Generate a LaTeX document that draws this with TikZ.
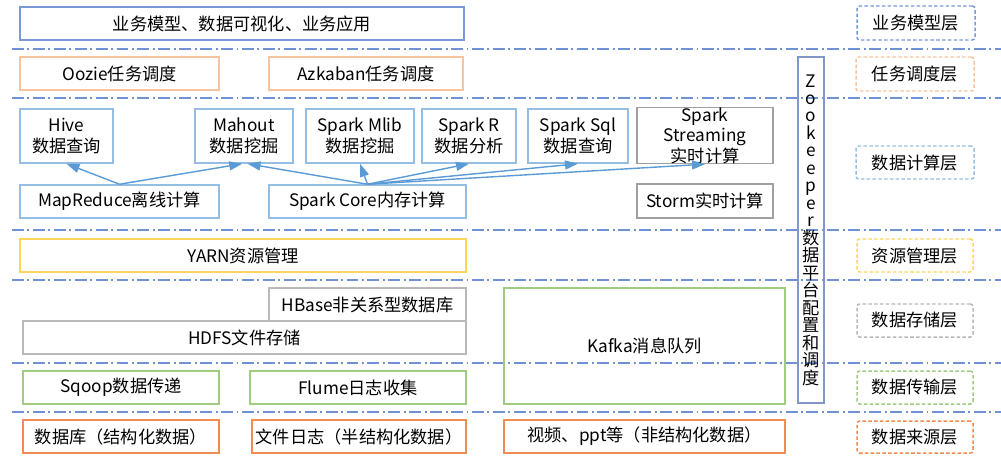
\documentclass[tikz,border=0pt]{standalone}
\usepackage{fontspec}
\setmainfont{Noto Sans CJK SC}
\usepackage{tikz}
\usetikzlibrary{arrows.meta,positioning}

\definecolor{sepbl}{RGB}{112,146,212}
\definecolor{appbl}{RGB}{120,152,214}
\definecolor{compbl}{RGB}{150,190,228}
\definecolor{schor}{RGB}{248,196,160}
\definecolor{srcor}{RGB}{240,140,80}
\definecolor{yarny}{RGB}{255,212,90}
\definecolor{storgr}{RGB}{185,185,185}
\definecolor{strmgr}{RGB}{160,160,160}
\definecolor{transgn}{RGB}{160,204,130}
\definecolor{zkbl}{RGB}{130,150,200}
\definecolor{arrbl}{RGB}{91,155,213}

\begin{document}
\begin{tikzpicture}[
  x=0.02cm, y=-0.02cm,
  every node/.style={font=\fontsize{9.8}{12}\selectfont},
  box/.style={rectangle, draw=#1, line width=0.85pt, inner sep=0pt,
              align=center},
  wh/.style 2 args={minimum width=#1*0.02cm, minimum height=#2*0.02cm},
  tag/.style={box=#1, dash pattern=on 2pt off 1.3pt, rounded corners=1.5pt},
  dep/.style={-{Triangle[length=2.6mm,width=1.8mm]}, line width=0.8pt, arrbl},
  sep/.style={sepbl, line width=1.1pt,
              dash pattern=on 6.8pt off 2pt on 1.1pt off 2pt},
]
\useasboundingbox (0,0) rectangle (1001,463);

%% -- layer separators -----------------------------------------------
\foreach \y in {49,98,230,280,363,412}
  \draw[sep] (12,\y) -- (1001,\y);

%% -- business layer ---------------------------------------------------
\node[box=appbl, wh={444}{33}] (app) at (242,23.5) {业务模型、数据可视化、业务应用};

%% -- scheduling layer -------------------------------------------------
\node[box=schor, wh={199}{33}] (oozie)   at (119.5,73.5) {Oozie任务调度};
\node[box=schor, wh={194}{33}] (azkaban) at (366,73.5)   {Azkaban任务调度};

%% -- computing layer --------------------------------------------------
\node[box=compbl, wh={93}{54}]  (hive)   at (66.5,136) {Hive\\数据查询};
\node[box=compbl, wh={98}{54}]  (mahout) at (244,136)  {Mahout\\数据挖掘};
\node[box=compbl, wh={108}{54}] (mlib)   at (360,136)  {Spark Mlib\\数据挖掘};
\node[box=compbl, wh={94}{54}]  (sparkr) at (469,136)  {Spark R\\数据分析};
\node[box=compbl, wh={100}{54}] (sql)    at (578,136)  {Spark Sql\\数据查询};
\node[box=strmgr, wh={136}{55}, font=\fontsize{9.8}{11.6}\selectfont]
  (streaming) at (705,135.5) {Spark\\Streaming\\实时计算};

\node[box=compbl, wh={199}{33}] (mr)    at (119.5,201.5) {MapReduce离线计算};
\node[box=compbl, wh={197}{33}] (core)  at (367.5,201.5) {Spark Core内存计算};
\node[box=strmgr, wh={136}{34}] (storm) at (705,201)     {Storm实时计算};

% dependencies
\draw[dep] (mr.north) -- (hive.south);
\draw[dep] (mr.north) -- ([xshift=-1pt]mahout.south);
\draw[dep] (core.north) -- ([xshift=2pt]mahout.south);
\draw[dep] (core.north) -- (mlib.south);
\draw[dep] (core.north) -- (sparkr.south);
\draw[dep] (core.north) -- (sql.south);
\draw[dep] (core.north) -- (streaming.south);

%% -- resource layer ---------------------------------------------------
\node[box=yarny, wh={446}{33}] (yarn) at (243,255.5) {YARN资源管理};

%% -- storage layer ----------------------------------------------------
\node[box=storgr, wh={197}{33}]   (hbase) at (367.5,304.5) {HBase非关系型数据库};
\node[box=storgr, wh={443}{33}]   (hdfs)  at (244.5,337.5) {HDFS文件存储};
\node[box=transgn, wh={281}{116}] (kafka) at (644.5,346)   {Kafka消息队列};

%% -- transport layer --------------------------------------------------
\node[box=transgn, wh={196}{33}] (sqoop) at (121,387.5) {Sqoop数据传递};
\node[box=transgn, wh={216}{33}] (flume) at (358,387.5) {Flume日志收集};

%% -- source layer -----------------------------------------------------
\node[box=srcor, wh={196}{33}] (db)    at (121,436.5)   {数据库（结构化数据）};
\node[box=srcor, wh={214}{33}] (logs)  at (359,436.5)   {文件日志（半结构化数据）};
\node[box=srcor, wh={281}{33}] (media) at (644.5,436.5) {视频、ppt等（非结构化数据）};

%% -- zookeeper column -------------------------------------------------
\node[box=zkbl, wh={26}{346}, font=\fontsize{9.8}{9.95}\selectfont]
  (zk) at (811,230)
  {Z\\o\\o\\k\\e\\e\\p\\e\\r\\数\\据\\平\\台\\配\\置\\和\\调\\度};

%% -- layer tags -------------------------------------------------------
\node[tag=appbl,   wh={118}{34}] (tApp)   at (916,23)    {业务模型层};
\node[tag=schor,   wh={118}{34}] (tSched) at (915,74)    {任务调度层};
\node[tag=compbl,  wh={118}{33}] (tComp)  at (915,162.5) {数据计算层};
\node[tag=yarny,   wh={116}{33}] (tRes)   at (915,255.5) {资源管理层};
\node[tag=storgr,  wh={116}{33}] (tStor)  at (915,320.5) {数据存储层};
\node[tag=transgn, wh={116}{33}] (tTrans) at (915,387.5) {数据传输层};
\node[tag=srcor,   wh={116}{32}] (tSrc)   at (915,437)   {数据来源层};

\end{tikzpicture}
\end{document}
